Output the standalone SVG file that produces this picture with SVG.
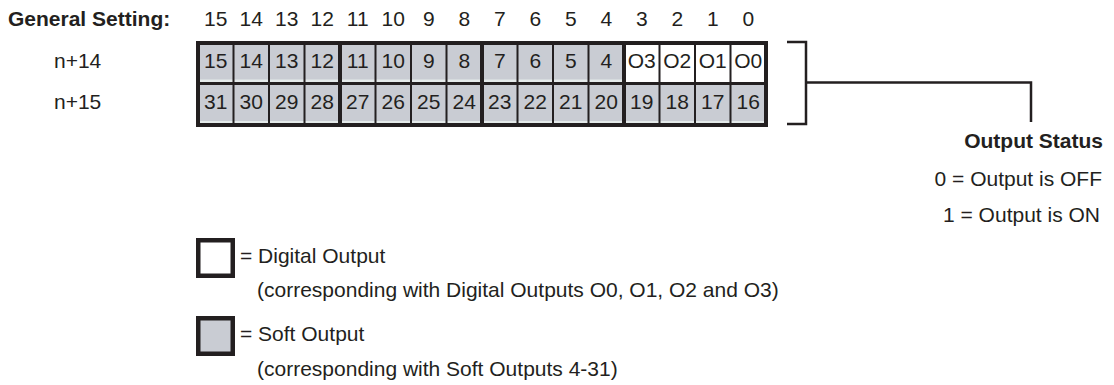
<svg xmlns="http://www.w3.org/2000/svg" width="1114" height="385" viewBox="0 0 1114 385">
<style>
text{font-family:"Liberation Sans",Arial,sans-serif;font-size:21px;fill:#231f20}
.b{font-weight:bold}
.c{text-anchor:middle}
.e{text-anchor:end}
.g{fill:#c9ccd3}
.s{fill:#e4eaea}
.w{fill:#ffffff}
.ln{stroke:#231f20;fill:none}
.thin{stroke-width:2}
.thick{stroke-width:4}
.box{stroke:#231f20;stroke-width:4.5}
.con{stroke:#231f20;stroke-width:2.5;fill:none}
</style>
<rect width="1114" height="385" fill="#ffffff"/>
<g id="header">
<text class="b" x="8" y="26">General Setting:</text>
<text class="c" x="215.75" y="26">15</text>
<text class="c" x="251.25" y="26">14</text>
<text class="c" x="286.75" y="26">13</text>
<text class="c" x="322.25" y="26">12</text>
<text class="c" x="357.75" y="26">11</text>
<text class="c" x="393.25" y="26">10</text>
<text class="c" x="428.75" y="26">9</text>
<text class="c" x="464.25" y="26">8</text>
<text class="c" x="499.75" y="26">7</text>
<text class="c" x="535.25" y="26">6</text>
<text class="c" x="570.75" y="26">5</text>
<text class="c" x="606.25" y="26">4</text>
<text class="c" x="641.75" y="26">3</text>
<text class="c" x="677.25" y="26">2</text>
<text class="c" x="712.75" y="26">1</text>
<text class="c" x="748.25" y="26">0</text>
<text x="54" y="68">n+14</text>
<text x="54" y="109">n+15</text>
</g>
<g id="register-grid">
<rect class="g" x="198" y="43" width="426" height="40.5"/>
<rect class="w" x="624" y="43" width="142" height="40.5"/>
<rect class="g" x="198" y="83.5" width="568" height="41.5"/>
<rect class="s" x="198" y="79.5" width="426" height="3"/>
<rect class="s" x="198" y="121" width="568" height="3"/>
<path class="ln thin" d="M233.5 43V125M269 43V125M304.5 43V125M375.5 43V125M411 43V125M446.5 43V125M517.5 43V125M553 43V125M588.5 43V125M659.5 43V125M695 43V125M730.5 43V125"/>
<path class="ln" stroke-width="3" d="M198 83.5H766"/>
<path class="ln thick" d="M340 43V125M482 43V125M624 43V125"/>
<rect class="ln thick" x="198" y="43" width="568" height="82"/>
<g id="row-n14">
<text class="c" x="215.75" y="68">15</text>
<text class="c" x="251.25" y="68">14</text>
<text class="c" x="286.75" y="68">13</text>
<text class="c" x="322.25" y="68">12</text>
<text class="c" x="357.75" y="68">11</text>
<text class="c" x="393.25" y="68">10</text>
<text class="c" x="428.75" y="68">9</text>
<text class="c" x="464.25" y="68">8</text>
<text class="c" x="499.75" y="68">7</text>
<text class="c" x="535.25" y="68">6</text>
<text class="c" x="570.75" y="68">5</text>
<text class="c" x="606.25" y="68">4</text>
<text class="c" x="641.75" y="68">O3</text>
<text class="c" x="677.25" y="68">O2</text>
<text class="c" x="712.75" y="68">O1</text>
<text class="c" x="748.25" y="68">O0</text>
</g>
<g id="row-n15">
<text class="c" x="215.75" y="109">31</text>
<text class="c" x="251.25" y="109">30</text>
<text class="c" x="286.75" y="109">29</text>
<text class="c" x="322.25" y="109">28</text>
<text class="c" x="357.75" y="109">27</text>
<text class="c" x="393.25" y="109">26</text>
<text class="c" x="428.75" y="109">25</text>
<text class="c" x="464.25" y="109">24</text>
<text class="c" x="499.75" y="109">23</text>
<text class="c" x="535.25" y="109">22</text>
<text class="c" x="570.75" y="109">21</text>
<text class="c" x="606.25" y="109">20</text>
<text class="c" x="641.75" y="109">19</text>
<text class="c" x="677.25" y="109">18</text>
<text class="c" x="712.75" y="109">17</text>
<text class="c" x="748.25" y="109">16</text>
</g>
</g>
<g id="connectors">
<path class="con" d="M787 42H806V124H787"/>
<path class="con" d="M806 82.5H1031V122"/>
</g>
<g id="output-status">
<text class="b e" x="1103" y="148">Output Status</text>
<text class="e" x="1102" y="186">0 = Output is OFF</text>
<text class="e" x="1100" y="222">1 = Output is ON</text>
</g>
<g id="legend-digital">
<rect class="w box" x="198.25" y="240.25" width="34.5" height="35.5"/>
<text x="240" y="263">= Digital Output</text>
<text x="257" y="297">(corresponding with Digital Outputs O0, O1, O2 and O3)</text>
</g>
<g id="legend-soft">
<rect class="g box" x="198.25" y="318.25" width="34.5" height="35.5"/>
<text x="240" y="341">= Soft Output</text>
<text x="257" y="376">(corresponding with Soft Outputs 4-31)</text>
</g>
</svg>
